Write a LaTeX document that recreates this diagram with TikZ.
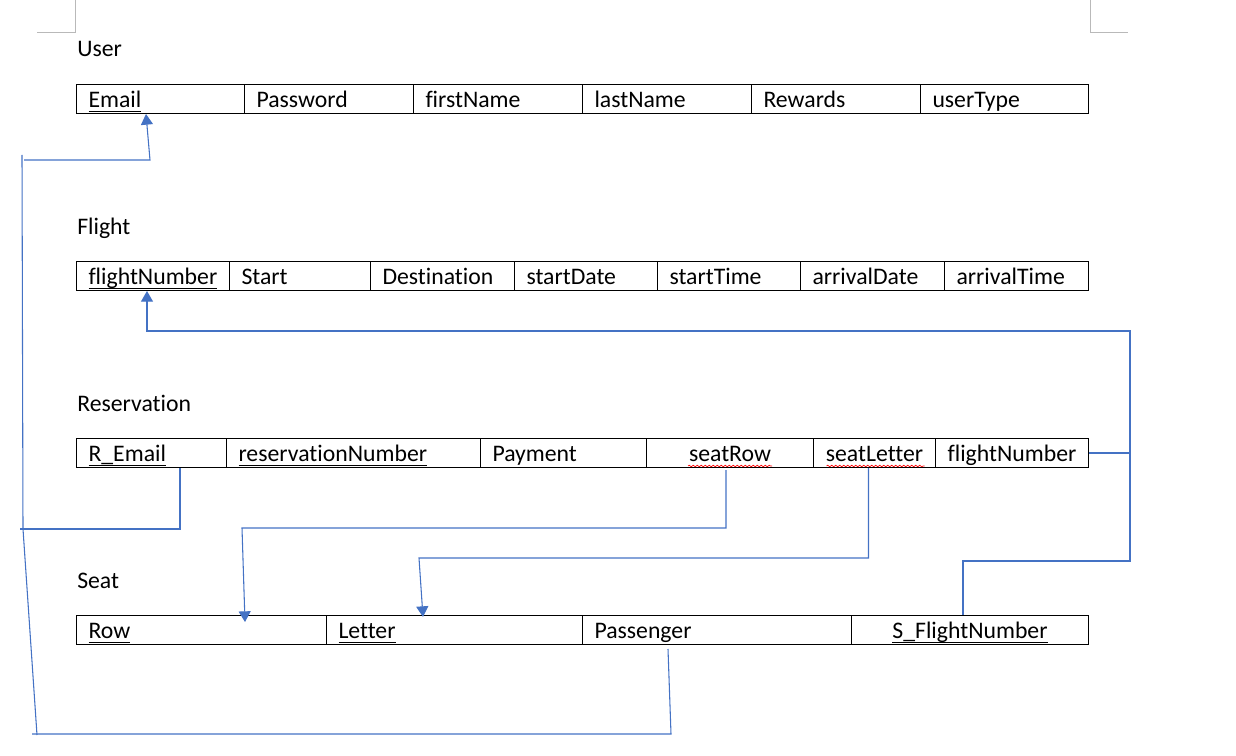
\documentclass[tikz,border=0pt]{standalone}
\usepackage{fontspec}
\setmainfont{Carlito}[Ligatures={NoCommon,NoRare}]
\usetikzlibrary{arrows.meta,decorations.pathmorphing}
\definecolor{linkblue}{HTML}{4472C4}
\newcommand\keyul[1]{\setbox0\hbox{#1}\rlap{\rule[-3.6pt]{\wd0}{1.1pt}}\box0}

\begin{document}
\begin{tikzpicture}[x=0.75pt,y=-0.75pt,
      font=\fontsize{17.8pt}{21pt}\selectfont,
      cell/.style={draw=black, line width=0.75pt, anchor=north west, minimum height=21.75pt,
        inner xsep=9pt, inner ysep=0pt, text height=13pt, text depth=0pt, align=left},
      ccell/.style={cell, inner xsep=3pt, align=center},
      title/.style={anchor=base west, inner sep=0pt},
      link/.style={draw=linkblue, line width=0.8pt},
      arr/.style={-{Triangle[width=9pt,length=8pt]}},
      squig/.style={draw=red, line width=0.5pt, decorate,
        decoration={snake, amplitude=0.6pt, segment length=3pt}},
      corner/.style={draw=gray!55, line width=0.75pt}]
      \useasboundingbox (0,0) rectangle (1236,756);
      % page corners
      \draw [corner] (75,0) -- (75,33) -- (37,33);
      \draw [corner] (1090,0) -- (1090,33) -- (1128,33);
      % User
      \node [title] (tUser) at (77,57) {User};
      \node [cell, text width=108pt] (uEmail) at (76,84) {\keyul{Email}};
      \node [cell, text width=108.75pt] (uPass) at (244,84) {Password};
      \node [cell, text width=108.75pt] (uFirst) at (413,84) {firstName};
      \node [cell, text width=108.75pt] (uLast) at (582,84) {lastName};
      \node [cell, text width=108.75pt] (uRew) at (751,84) {Rewards};
      \node [cell, text width=108pt] (uType) at (920,84) {userType};
      % Flight
      \node [title] (tFlight) at (77,234) {Flight};
      \node [cell, text width=96.75pt] (fNumber) at (76,261) {\keyul{flightNumber}};
      \node [cell, text width=87.75pt] (fStart) at (229,261) {Start};
      \node [cell, text width=90pt] (fDest) at (370,261) {Destination};
      \node [cell, text width=89.25pt] (fSDate) at (514,261) {startDate};
      \node [cell, text width=89.25pt] (fSTime) at (657,261) {startTime};
      \node [cell, text width=90pt] (fADate) at (800,261) {arrivalDate};
      \node [cell, text width=90pt] (fATime) at (944,261) {arrivalTime};
      % Reservation
      \node [title] (tRes) at (77,411) {Reservation};
      \node [cell, text width=94.5pt] (rEmail) at (76,438) {\keyul{R\_Email}};
      \node [cell, text width=172.5pt] (rNumber) at (226,438) {\keyul{reservationNumber}};
      \node [cell, text width=106.5pt] (rPay) at (480,438) {Payment};
      \node [ccell, minimum width=125.25pt] (rSeatRow) at (646,438) {seatRow};
      \node [ccell, minimum width=91.5pt] (rSeatLetter) at (813,438) {seatLetter};
      \node [ccell, minimum width=114.75pt] (rFlight) at (935,438) {flightNumber};
      \draw [squig] ([shift={(-42,-2)}]rSeatRow.south) -- ([shift={(42,-2)}]rSeatRow.south);
      \draw [squig] ([shift={(-48,-2)}]rSeatLetter.south) -- ([shift={(50,-2)}]rSeatLetter.south);
      % Seat
      \node [title] (tSeat) at (77,588) {Seat};
      \node [cell, text width=169.5pt] (sRow) at (76,615) {\keyul{Row}};
      \node [cell, text width=174pt] (sLetter) at (326,615) {\keyul{Letter}};
      \node [cell, text width=183.75pt] (sPass) at (582,615) {Passenger};
      \node [ccell, minimum width=177.75pt] (sFlight) at (851,615) {\keyul{S\_FlightNumber}};
      % bends
      \coordinate (eTop) at (22,155);
      \coordinate (eJoin) at (24,160);
      \coordinate (eMid) at (23,529);
      \coordinate (eLow) at (37,735);
      \coordinate (fRight) at (1130,331);
      \coordinate (fLow) at (1130,561);
      \coordinate (rowBend) at (242,528);
      \coordinate (letterBend) at (419,558);
      % connectors
      \draw [link] (eTop) -- (eMid) -- (eLow);
      \draw [link, arr] (eJoin) -- (150,160) -- ([shift={(70,0)}]uEmail.south west);
      \draw [link] ([shift={(104,0)}]rEmail.south west) |- ([shift={(-3,0)}]eMid);
      \draw [link] ([shift={(86,4)}]sPass.south west) -- (671,734) -- ([shift={(-5,-1)}]eLow);
      \draw [link, arr] (rFlight.east) -| (fRight) -| ([shift={(71,0)}]fNumber.south west);
      \draw [link] (rFlight.east -| fRight) -- (fLow) -| ([shift={(-7,0)}]sFlight.north);
      \draw [link, arr] ([shift={(-4,2)}]rSeatRow.south) |- (rowBend) -- ([shift={(169,7)}]sRow.north west);
      \draw [link, arr] ([shift={(-6,0)}]rSeatLetter.south) |- (letterBend) -- ([shift={(97,2)}]sLetter.north west);
\end{tikzpicture}
\end{document}
